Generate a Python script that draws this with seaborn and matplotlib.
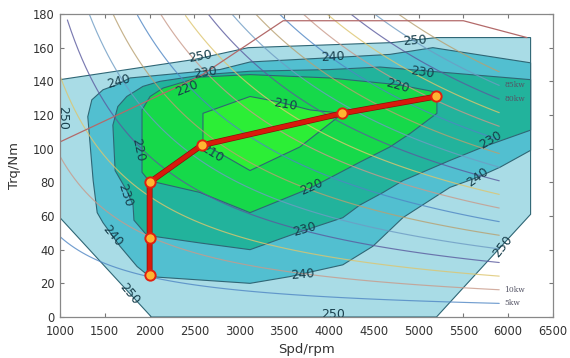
import numpy as np
import pandas as pd
import matplotlib
matplotlib.use("Agg")
import matplotlib.pyplot as plt
import seaborn as sns
from matplotlib import patheffects as pe

# ---- BSFC regions (g/kWh), boundary vertices as (speed rpm, torque Nm) ----
spd_250 = [1000, 2500, 3100, 4700, 5200, 6250, 6250, 5200, 2020, 1000]
trq_250 = [141, 153, 160, 163, 166, 166, 61, 0, 0, 59]

spd_240 = [1310, 1355, 1480, 1635, 1780, 2785, 3120, 4010, 4680, 5160, 6250,
           6250, 5910, 5660, 5350, 4825, 4490, 4155, 3565, 3120, 2560, 2000,
           1860, 1670, 1480, 1415, 1370]
trq_240 = [119, 129, 135, 138, 142, 147, 151.5, 154, 156, 160, 151,
           99, 89, 83, 77, 59, 42, 31, 24, 20, 22, 24,
           30, 42, 56, 62, 81]

spd_230 = [1615, 1590, 1645, 1745, 1925, 2115, 2620, 3120, 4010, 4570, 5240,
           6250, 6250, 5720, 5350, 4825, 4605, 4345, 4155, 3645, 3120, 2560,
           1970, 1825, 1815, 1745]
trq_230 = [87, 114, 125, 131, 137, 140, 144, 146, 147, 148.5, 145.5,
           141, 111, 101, 93, 81, 74, 66.5, 59, 50, 40, 44,
           48.5, 57.5, 66.5, 75]

spd_220 = [1915, 1990, 2560, 3120, 3790, 4345, 4680, 4905, 5205, 5205, 5160,
           4770, 4010, 3120, 2560, 2150, 2005, 1915]
trq_220 = [86, 81, 74, 62, 76.5, 92, 101, 109, 121, 132, 134,
           138, 142, 144, 142.5, 136, 131, 123]

spd_210 = [2595, 3120, 3420, 3790, 4155, 3675, 3120, 2595]
trq_210 = [121, 131, 128, 123, 121, 101, 87, 103]

# ---- full-load torque curve ----
wot_spd = [1000, 2560, 3490, 5500, 6210]
wot_trq = [104, 143, 176, 176, 166]

# ---- constant-power lines (kW) ----
power_kw = [5, 10, 15, 20, 25, 30, 35, 40, 45, 50, 55, 60, 65, 70, 75, 80, 85, 90]
power_tags = {5: "5kw", 10: "10kw", 80: "80kw", 85: "85kw"}

# ---- operating line ----
path_spd = [2000, 2000, 2000, 2580, 4150, 5200]
path_trq = [25, 47, 80, 102, 121, 131]

# ---- contour labels: text, speed, torque, angle ----
contour_tags = [
    ("250", 2560, 155, 10), ("250", 4960, 164, 4), ("240", 1650, 140, 15),
    ("240", 4045, 154.5, 3), ("230", 2620, 145, 9), ("230", 5040, 145.5, -9),
    ("220", 2420, 136, 22), ("220", 4770, 137.5, -16), ("210", 3510, 126, -10),
    ("210", 2700, 97, -32), ("220", 1870, 99, -78), ("250", 1025, 118, -90),
    ("230", 1725, 72.5, -72), ("240", 1580, 48.5, -50), ("250", 1780, 14, -50),
    ("220", 3810, 77.5, 24), ("230", 3730, 52, 16), ("240", 3710, 25, 5),
    ("250", 4050, 1.5, 0), ("230", 5800, 105, 30), ("240", 5660, 83, 36),
    ("250", 5940, 42, 52),
]

sns.set_theme(style="ticks")
plt.rcParams["font.family"] = ["DejaVu Sans"]

fig = plt.figure(figsize=(5.7, 3.58), dpi=100)
ax = fig.add_axes([60 / 570, 41 / 358, 493 / 570, 303 / 358])
ax.set_facecolor("white")

edge = "#2f6675"
regions = [
    (spd_250, trq_250, "#a9dce6"),
    (spd_240, trq_240, "#52bfd0"),
    (spd_230, trq_230, "#22b39c"),
    (spd_220, trq_220, "#16d94a"),
    (spd_210, trq_210, "#2cee36"),
]
for i, (xs, ys, col) in enumerate(regions):
    ax.fill(xs, ys, facecolor=col, edgecolor=edge, linewidth=0.8, zorder=1 + i)

# constant-power curves T = 9549 P / n
n_grid = np.linspace(1000, 5900, 120)
rows = []
for p in power_kw:
    for n in n_grid:
        rows.append({"spd": n, "trq": 9549.0 * p / n, "P": p})
iso = pd.DataFrame(rows)
iso = iso[iso["trq"] <= 182]
cycle = ["#4f86c4", "#c99a8a", "#ddc56e", "#5a5a9e", "#6e9cc4", "#b8a070"]
pal = {p: cycle[i % len(cycle)] for i, p in enumerate(power_kw)}
sns.lineplot(data=iso, x="spd", y="trq", hue="P", palette=pal, legend=False,
             estimator=None, sort=False, linewidth=0.85, alpha=0.8, ax=ax,
             zorder=7)
for p, tag in power_tags.items():
    ax.text(5960, 9549.0 * p / 5900, tag, fontsize=5.5, color="#556",
            family=["DejaVu Serif"], va="center", ha="left", zorder=8)

sns.lineplot(x=wot_spd, y=wot_trq, sort=False, estimator=None, color="#b36a6a",
             linewidth=0.9, ax=ax, zorder=7)

for txt, x, y, r in contour_tags:
    ax.text(x, y, txt, fontsize=9, color="#183f4c", rotation=r,
            rotation_mode="anchor", ha="center", va="center", zorder=9)

# operating line through the chosen points, in the given order
sns.lineplot(x=path_spd, y=path_trq, estimator=None, sort=False,
             color="#d81a0c", linewidth=3.2, ax=ax, zorder=10,
             solid_capstyle="round",
             path_effects=[pe.Stroke(linewidth=4.2, foreground="#8a1008"), pe.Normal()])
ax.scatter(path_spd, path_trq, s=55, facecolor="#ffb431", edgecolor="#e02010",
           linewidth=1.4, zorder=11)

ax.set_xlim(1000, 6500)
ax.set_ylim(0, 180)
ax.set_xticks(np.arange(1000, 6501, 500))
ax.set_yticks(np.arange(0, 181, 20))
ax.tick_params(direction="in", length=3, width=0.8, color="#777",
               labelsize=8.3, labelcolor="#333", top=True, right=True,
               labeltop=False, labelright=False)
ax.tick_params(axis="x", pad=6)
ax.tick_params(axis="y", pad=4)
for s in ax.spines.values():
    s.set_color("#888")
    s.set_linewidth(0.9)
    s.set_zorder(12)
ax.set_xlabel("Spd/rpm", fontsize=9.5, color="#333", labelpad=3)
ax.set_ylabel("Trq/Nm", fontsize=9.5, color="#333", labelpad=8)

fig.savefig("out.png", dpi=100, facecolor="white")
